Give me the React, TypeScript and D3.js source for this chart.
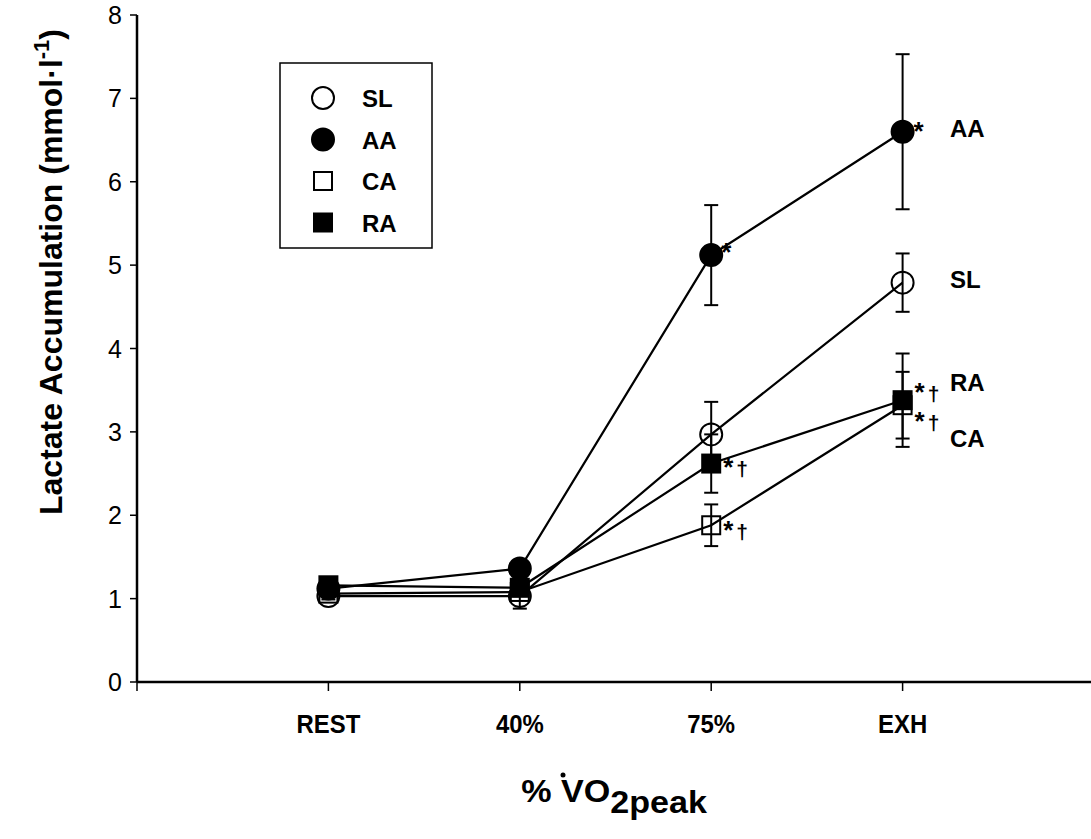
import * as d3 from 'd3'

// time points on the x axis (0 = origin, 1..4 = stages)
const stages = ['REST', '40%', '75%', 'EXH']
const stagePos = [1, 2, 3, 4]

// lactate (mmol/l), mean and error per group
const slMean = [1.03, 1.03, 2.97, 4.79]
const slErr = [0.04, 0.15, 0.39, 0.35]
const aaMean = [1.12, 1.36, 5.12, 6.6]
const aaErr = [0.05, 0.08, 0.6, 0.93]
const caMean = [1.06, 1.08, 1.88, 3.32]
const caErr = [0.04, 0.05, 0.25, 0.4]
const raMean = [1.16, 1.13, 2.62, 3.38]
const raErr = [0.05, 0.06, 0.35, 0.56]

const yTicks = [0, 1, 2, 3, 4, 5, 6, 7, 8]

type Series = { name: string; mean: number[]; err: number[]; shape: 'circle' | 'square'; filled: boolean }

const series: Series[] = [
  { name: 'SL', mean: slMean, err: slErr, shape: 'circle', filled: false },
  { name: 'AA', mean: aaMean, err: aaErr, shape: 'circle', filled: true },
  { name: 'CA', mean: caMean, err: caErr, shape: 'square', filled: false },
  { name: 'RA', mean: raMean, err: raErr, shape: 'square', filled: true },
]

// significance marks: series, stage index, dagger shown or not
const marks = [
  { s: 'AA', i: 2, dagger: false, dx: 10, dy: 6 },
  { s: 'AA', i: 3, dagger: false, dx: 11, dy: 8 },
  { s: 'RA', i: 2, dagger: true, dx: 12, dy: 12 },
  { s: 'CA', i: 2, dagger: true, dx: 12, dy: 14 },
  { s: 'RA', i: 3, dagger: true, dx: 12, dy: 1 },
  { s: 'CA', i: 3, dagger: true, dx: 12, dy: 25 },
]

// end labels on the right
const endLabels = [
  { name: 'AA', value: 6.65 },
  { name: 'SL', value: 4.83 },
  { name: 'RA', value: 3.6 },
  { name: 'CA', value: 2.93 },
]

const font = 'Liberation Sans, Arial, Helvetica, sans-serif'

function Marker({ s, cx, cy }: { s: Series; cx: number; cy: number }) {
  const fill = s.filled ? '#000' : 'none'
  if (s.shape === 'circle') {
    return <circle cx={cx} cy={cy} r={11} fill={fill} stroke="#000" strokeWidth={2} />
  }
  return <rect x={cx - 9} y={cy - 9} width={18} height={18} fill={fill} stroke="#000" strokeWidth={2} />
}

export default function App() {
  const width = 1091
  const height = 839
  const x = d3.scaleLinear().domain([0, 5]).range([137, 1094])
  const y = d3.scaleLinear().domain([0, 8]).range([682, 15])

  const line = d3
    .line<number>()
    .x((_, i) => x(stagePos[i]))
    .y((d) => y(d))

  const byName = (n: string) => series.find((s) => s.name === n)!

  return (
    <svg
      width={width}
      height={height}
      style={{ position: 'absolute', left: 0, top: 0 }}
      fontFamily={font}
    >
      <rect width={width} height={height} fill="#fff" />

      {/* axes */}
      <line x1={x(0)} x2={x(0)} y1={y(0)} y2={y(8)} stroke="#000" strokeWidth={2.5} />
      <line x1={x(0)} x2={1091} y1={y(0)} y2={y(0)} stroke="#000" strokeWidth={2.5} />
      {yTicks.map((t) => (
        <g key={t}>
          <line x1={x(0) - 7} x2={x(0)} y1={y(t)} y2={y(t)} stroke="#000" strokeWidth={1.5} />
          <text x={x(0) - 15} y={y(t) + 9} fontSize={25} textAnchor="end">
            {t}
          </text>
        </g>
      ))}
      {[0, ...stagePos].map((p) => (
        <line key={p} x1={x(p)} x2={x(p)} y1={y(0)} y2={y(0) + 9} stroke="#000" strokeWidth={1.5} />
      ))}
      {stages.map((s, i) => (
        <text
          key={s}
          transform={`translate(${x(stagePos[i])},733) scale(0.92,1)`}
          fontSize={26}
          fontWeight="bold"
          textAnchor="middle"
        >
          {s}
        </text>
      ))}

      {/* axis titles */}
      <text transform="translate(62,272) rotate(-90)" fontSize={32} fontWeight="bold" textAnchor="middle">
        Lactate Accumulation (mmol·l
        <tspan fontSize={22} dy={-13}>
          -1
        </tspan>
        <tspan dy={13}>)</tspan>
      </text>
      <text transform="translate(614,802) scale(1.1,1)" fontSize={31} fontWeight="bold" textAnchor="middle">
        % VO
        <tspan dy={11}>2peak</tspan>
      </text>
      <circle cx={563} cy={775} r={2.5} fill="#000" />

      {/* lines */}
      {series.map((s) => (
        <path key={s.name} d={line(s.mean) || ''} fill="none" stroke="#000" strokeWidth={2.2} />
      ))}

      {/* error bars */}
      {series.map((s) =>
        s.mean.map((m, i) => {
          const cx = x(stagePos[i])
          return (
            <g key={s.name + i} stroke="#000" strokeWidth={2}>
              <line x1={cx} x2={cx} y1={y(m - s.err[i])} y2={y(m + s.err[i])} />
              <line x1={cx - 7} x2={cx + 7} y1={y(m - s.err[i])} y2={y(m - s.err[i])} />
              <line x1={cx - 7} x2={cx + 7} y1={y(m + s.err[i])} y2={y(m + s.err[i])} />
            </g>
          )
        })
      )}

      {/* markers */}
      {series.map((s) =>
        s.mean.map((m, i) => <Marker key={s.name + 'm' + i} s={s} cx={x(stagePos[i])} cy={y(m)} />)
      )}

      {/* significance marks */}
      {marks.map((mk, k) => {
        const s = byName(mk.s)
        return (
          <text
            key={k}
            x={x(stagePos[mk.i]) + mk.dx}
            y={y(s.mean[mk.i]) + mk.dy}
            fontSize={21}
            fontWeight="bold"
          >
            <tspan fontSize={26}>*</tspan>
            {mk.dagger && <tspan dx={3}>†</tspan>}
          </text>
        )
      })}

      {/* end labels */}
      {endLabels.map((l) => (
        <text key={l.name} x={950} y={y(l.value) + 9} fontSize={24} fontWeight="bold">
          {l.name}
        </text>
      ))}

      {/* legend */}
      <rect x={280} y={63} width={152} height={185} fill="none" stroke="#000" strokeWidth={1.5} />
      {series.map((s, i) => (
        <g key={s.name + 'leg'}>
          <Marker s={s} cx={323} cy={98 + i * 41.5} />
          <text x={362} y={98 + i * 41.5 + 9} fontSize={24} fontWeight="bold">
            {s.name}
          </text>
        </g>
      ))}
    </svg>
  )
}
